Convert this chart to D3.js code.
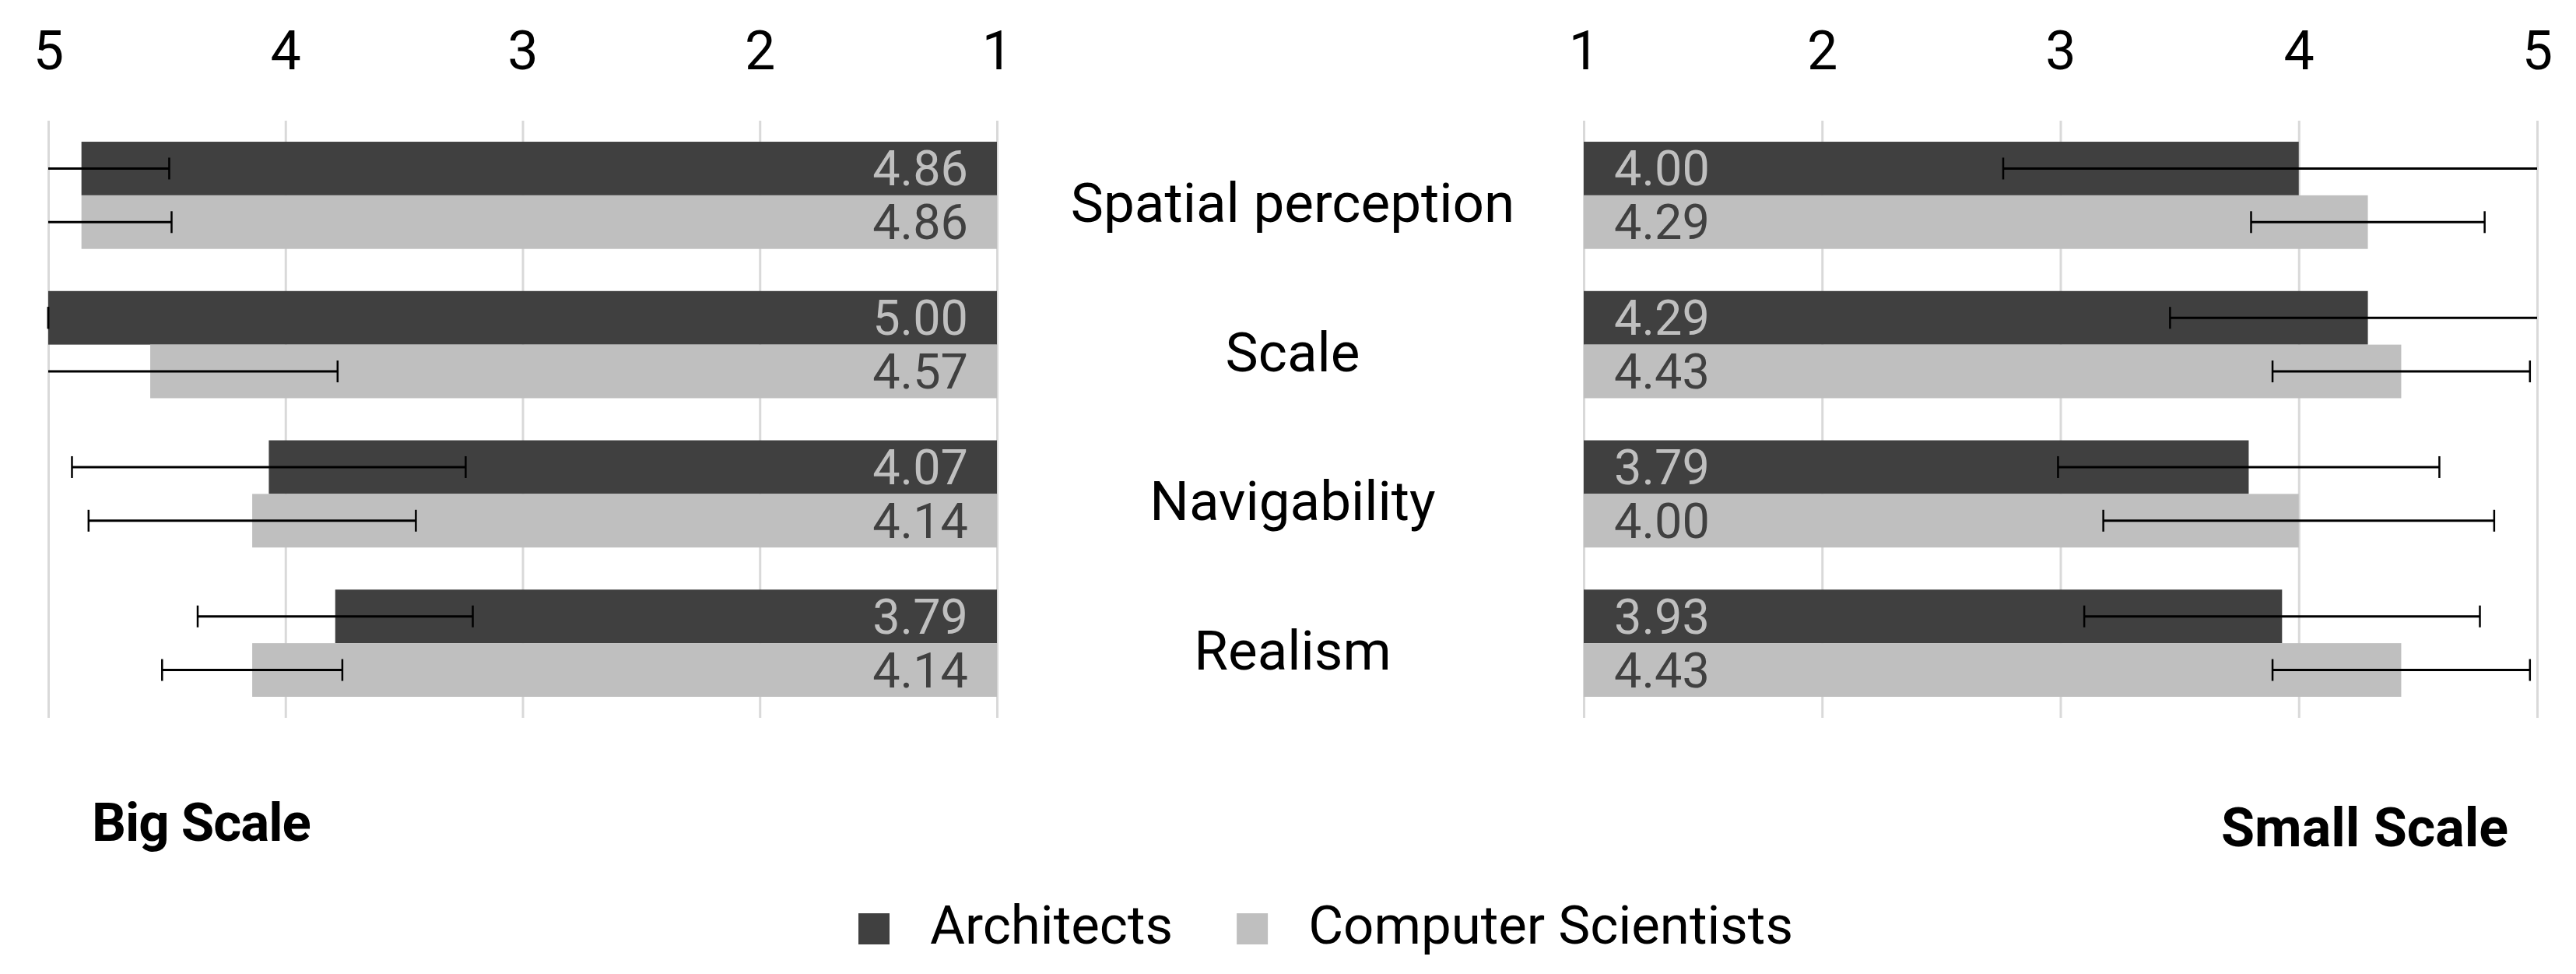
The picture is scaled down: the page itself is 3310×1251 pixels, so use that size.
<!DOCTYPE html>
<html>
<head>
<meta charset="utf-8">
<script src="https://cdn.jsdelivr.net/npm/d3@7"></script>
<style>
  body { margin: 0; background: #fff; }
  svg { display: block; font-family: Roboto, "Liberation Sans", sans-serif; }
</style>
</head>
<body>
<svg width="3310" height="1251"></svg>
<script>
// Catégories, séries et graduations
const categories = ["Spatial perception", "Scale", "Navigability", "Realism"];
const series = ["Architects", "Computer Scientists"];
const graduations = [1, 2, 3, 4, 5];

// Big Scale : moyennes et écarts
const grandArchitectes = [4.86, 5.00, 4.07, 3.79];
const grandInformaticiens = [4.86, 4.57, 4.14, 4.14];
const grandArchitectesErr = [0.37, 0.00, 0.83, 0.58];
const grandInformaticiensErr = [0.38, 0.79, 0.69, 0.38];

// Small Scale : moyennes et écarts
const petitArchitectes = [4.00, 4.29, 3.79, 3.93];
const petitInformaticiens = [4.29, 4.43, 4.00, 4.43];
const petitArchitectesErr = [1.24, 0.83, 0.80, 0.83];
const petitInformaticiensErr = [0.49, 0.54, 0.82, 0.54];

const couleurs = ["#404040", "#bfbfbf"];
const couleursTexte = ["#bfbfbf", "#404040"];

let svg = d3.select("svg");

const haut = 155, bas = 922;

// Échelle des catégories (verticale)
const yScale = d3.scaleBand()
    .domain(categories)
    .range([haut, bas])
    .paddingInner(0.282)
    .paddingOuter(0.141);

const ySerie = d3.scaleBand()
    .domain(series)
    .range([0, yScale.bandwidth()]);

const fmt = d3.format(".2f");

function dessinerPanneau(xScale, valeurs, erreurs, cote) {
    const g = svg.append("g");

    // Graduations et grille
    const axe = g.append("g")
        .attr("transform", `translate(0,${haut})`)
        .call(d3.axisTop(xScale)
            .tickValues(graduations)
            .tickFormat(d3.format("d"))
            .tickSize(-(bas - haut))
            .tickPadding(66));
    axe.select(".domain").remove();
    axe.selectAll(".tick line")
        .attr("stroke", "#d9d9d9")
        .attr("stroke-width", 3);
    axe.selectAll(".tick text")
        .attr("fill", "#000")
        .style("font-size", "70px")
        .style("font-family", "Roboto, sans-serif");

    const x0 = xScale(1);

    series.forEach((s, i) => {
        const donnees = categories.map((c, j) => ({ c: c, v: valeurs[i][j], e: erreurs[i][j] }));
        const y = d => yScale(d.c) + ySerie(s);
        const yc = d => y(d) + ySerie.bandwidth() / 2;

        // Barres
        g.selectAll(null)
            .data(donnees)
            .enter()
            .append("rect")
            .attr("x", d => Math.min(x0, xScale(d.v)))
            .attr("y", y)
            .attr("width", d => Math.abs(xScale(d.v) - x0))
            .attr("height", ySerie.bandwidth())
            .attr("fill", couleurs[i]);

        // Étiquettes de valeur
        g.selectAll(null)
            .data(donnees)
            .enter()
            .append("text")
            .attr("x", cote === "gauche" ? x0 - 37 : x0 + 39)
            .attr("y", d => yc(d) + 22)
            .attr("text-anchor", cote === "gauche" ? "end" : "start")
            .attr("fill", couleursTexte[i])
            .style("font-size", "63px")
            .text(d => fmt(d.v));

        // Barres d'erreur (coupées aux bornes de l'axe)
        const erreur = g.selectAll(null)
            .data(donnees)
            .enter()
            .append("g");

        erreur.append("line")
            .attr("x1", d => xScale(Math.max(1, d.v - d.e)))
            .attr("x2", d => xScale(Math.min(5, d.v + d.e)))
            .attr("y1", yc)
            .attr("y2", yc)
            .attr("stroke", "#000")
            .attr("stroke-width", 3);

        erreur.each(function (d) {
            const bouts = [d.v - d.e, d.v + d.e].filter(b => b >= 1 && b <= 5);
            d3.select(this).selectAll(null)
                .data(bouts)
                .enter()
                .append("line")
                .attr("x1", b => xScale(b))
                .attr("x2", b => xScale(b))
                .attr("y1", yc(d) - 14)
                .attr("y2", yc(d) + 14)
                .attr("stroke", "#000")
                .attr("stroke-width", 2.5);
        });
    });
}

// Panneau gauche : Big Scale (axe inversé)
const xGauche = d3.scaleLinear().domain([5, 1]).range([62, 1281]);
dessinerPanneau(xGauche, [grandArchitectes, grandInformaticiens],
    [grandArchitectesErr, grandInformaticiensErr], "gauche");

// Panneau droit : Small Scale
const xDroite = d3.scaleLinear().domain([1, 5]).range([2035, 3260]);
dessinerPanneau(xDroite, [petitArchitectes, petitInformaticiens],
    [petitArchitectesErr, petitInformaticiensErr], "droite");

// Noms des catégories au centre
svg.selectAll(".categorie")
    .data(categories)
    .enter()
    .append("text")
    .attr("class", "categorie")
    .attr("x", 1661)
    .attr("y", d => yScale(d) + yScale.bandwidth() / 2 + 34)
    .attr("text-anchor", "middle")
    .attr("fill", "#000")
    .style("font-size", "71px")
    .text(d => d);

// Titres des panneaux
svg.append("text")
    .text("Big Scale")
    .attr("x", 118)
    .attr("y", 1080)
    .style("font-size", "69px")
    .style("font-weight", "bold")
    .style("letter-spacing", "-1px");

svg.append("text")
    .text("Small Scale")
    .attr("x", 3223)
    .attr("y", 1087)
    .attr("text-anchor", "end")
    .style("font-size", "70px")
    .style("font-weight", "bold");

// Légende
const legende = svg.append("g");
let xLeg = 1103;
series.forEach((s, i) => {
    legende.append("rect")
        .attr("x", xLeg)
        .attr("y", 1173)
        .attr("width", 40)
        .attr("height", 40)
        .attr("fill", couleurs[i]);
    const t = legende.append("text")
        .attr("x", xLeg + 92)
        .attr("y", 1212)
        .attr("fill", "#000")
        .style("font-size", "69px")
        .text(s);
    xLeg += 92 + t.node().getComputedTextLength() + 82;
});
</script>
</body>
</html>
